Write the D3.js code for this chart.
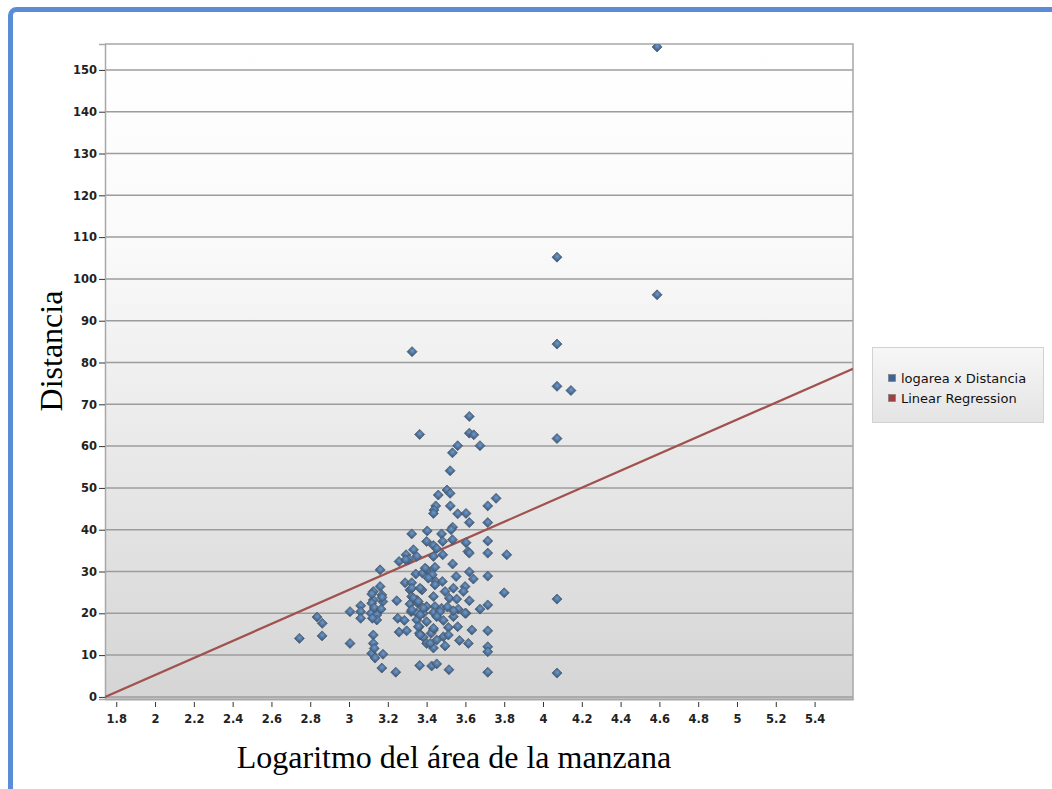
<!DOCTYPE html>
<html>
<head>
<meta charset="utf-8">
<script src="https://cdn.jsdelivr.net/npm/d3@7"></script>
<style>
  body { margin: 0; background: #fff; }
  svg { display: block; }
</style>
</head>
<body>
<script>
// logarea x Distancia
var logArea = [
  4.588, 4.072, 4.588, 4.072, 3.325, 4.072, 4.144, 4.072, 4.072, 4.072,
  3.620, 3.364, 3.620, 3.643, 3.560, 3.675, 3.533, 3.521, 3.505, 3.521,
  3.460, 3.758, 3.715, 3.522, 3.447, 3.438, 3.435, 3.560, 3.603, 3.620,
  3.715, 3.534, 3.403, 3.323, 3.477, 3.526, 3.400, 3.483, 3.533, 3.603,
  3.715, 3.435, 3.332, 3.452, 3.613, 3.620, 3.715, 3.813, 3.294, 3.349,
  3.435, 3.483, 3.258, 3.308, 3.534, 3.160, 3.443, 3.344, 3.379, 3.400,
  3.429, 3.620, 3.641, 3.552, 3.715, 3.447, 3.481, 3.289, 3.323, 3.598,
  3.538, 3.125, 3.169, 3.125, 3.160, 3.314, 3.376, 3.495, 3.589, 3.800,
  3.323, 3.349, 3.435, 3.517, 3.555, 3.620, 3.246, 3.117, 3.174, 3.314,
  3.354, 3.400, 3.443, 3.477, 3.507, 3.563, 3.675, 3.715, 3.005, 3.060,
  3.060, 3.113, 3.143, 3.320, 3.349, 3.383, 3.435, 3.469, 3.603, 3.538,
  3.060, 3.143, 3.251, 3.285, 3.349, 3.400, 3.486, 2.835, 2.862, 3.362,
  3.435, 3.512, 3.560, 3.633, 3.715, 3.258, 3.297, 3.362, 3.383, 3.423,
  3.486, 3.125, 2.744, 2.861, 3.005, 3.125, 3.400, 3.435, 3.495, 3.569,
  3.615, 3.715, 3.715, 3.117, 3.134, 3.175, 3.169, 3.241, 3.364, 3.426,
  3.452, 3.515, 3.715, 3.392, 3.409, 3.323, 3.366, 3.332, 3.357, 3.323,
  3.383, 3.366, 3.357, 3.435, 3.366, 3.418, 3.452, 3.512, 3.452, 3.538,
  3.598, 3.443, 3.117, 3.170, 3.130, 3.165, 3.120, 3.130, 3.292
];
var distancia = [
  155.5, 105.2, 96.2, 84.4, 82.6, 74.3, 73.3, 61.8, 23.4, 5.7,
  67.1, 62.8, 63.1, 62.7, 60.1, 60.1, 58.4, 54.1, 49.5, 48.7,
  48.3, 47.5, 45.7, 45.7, 45.7, 44.7, 43.9, 43.8, 43.9, 41.7,
  41.7, 40.6, 39.7, 39.0, 39.0, 40.0, 37.2, 37.2, 37.6, 36.9,
  37.3, 36.2, 35.2, 35.5, 34.8, 34.4, 34.4, 34.0, 34.0, 33.6,
  33.6, 34.0, 32.4, 32.9, 31.8, 30.4, 31.0, 29.4, 29.6, 30.5,
  29.2, 29.9, 28.2, 28.8, 28.9, 27.6, 27.6, 27.3, 27.3, 26.4,
  26.0, 25.2, 24.4, 23.2, 26.4, 25.6, 25.6, 25.2, 25.2, 24.9,
  24.0, 23.2, 24.0, 23.6, 23.4, 23.0, 23.0, 22.4, 22.8, 22.2,
  22.4, 21.6, 21.6, 21.2, 21.5, 21.0, 21.0, 22.0, 20.4, 21.8,
  20.4, 20.0, 19.6, 20.4, 20.0, 20.0, 20.2, 20.4, 20.0, 19.2,
  18.8, 18.4, 18.8, 18.3, 18.4, 18.0, 18.3, 19.1, 17.6, 16.8,
  16.0, 16.6, 16.8, 16.0, 15.8, 15.5, 15.8, 15.2, 14.3, 15.2,
  14.4, 14.8, 14.0, 14.6, 12.8, 12.8, 12.8, 11.7, 12.2, 13.5,
  12.8, 12.0, 10.8, 10.4, 9.3, 10.2, 6.9, 5.9, 7.5, 7.4,
  7.9, 6.5, 5.9, 30.8, 28.4, 26.0, 26.0, 23.6, 22.8, 20.8,
  21.2, 19.6, 16.8, 16.4, 14.8, 12.8, 13.6, 14.8, 19.2, 20.6,
  20.0, 26.8, 24.6, 23.8, 21.3, 21.0, 18.8, 11.6, 32.8
];

// Linear Regression (slope, intercept) as drawn
var regSlope = 20.36,
    regIntercept = -35.47;

var xTicks = [1.8, 2, 2.2, 2.4, 2.6, 2.8, 3, 3.2, 3.4, 3.6, 3.8, 4, 4.2, 4.4, 4.6, 4.8, 5, 5.2, 5.4];
var yTicks = [0, 10, 20, 30, 40, 50, 60, 70, 80, 90, 100, 110, 120, 130, 140, 150];
var legendLabels = ["logarea x Distancia", "Linear Regression"];

var width = 1052, height = 789;
var xMin = 1.742, xMax = 5.598, yMin = -0.5, yMax = 156.2;
var pLeft = 105, pRight = 853, pTop = 44, pBottom = 699;

var svg = d3.select("body").append("svg")
    .attr("width", width)
    .attr("height", height);

var defs = svg.append("defs");

var bg = defs.append("linearGradient")
    .attr("id", "plotbg").attr("x1", 0).attr("y1", 0).attr("x2", 0).attr("y2", 1);
bg.append("stop").attr("offset", "0%").attr("stop-color", "#ffffff");
bg.append("stop").attr("offset", "30%").attr("stop-color", "#fafafa");
bg.append("stop").attr("offset", "100%").attr("stop-color", "#d5d5d5");

var lg = defs.append("linearGradient")
    .attr("id", "legbg").attr("x1", 0).attr("y1", 0).attr("x2", 0).attr("y2", 1);
lg.append("stop").attr("offset", "0%").attr("stop-color", "#f7f7f7");
lg.append("stop").attr("offset", "100%").attr("stop-color", "#e4e4e4");

var mk = defs.append("radialGradient").attr("id", "marker").attr("cx", "45%").attr("cy", "40%").attr("r", "60%");
mk.append("stop").attr("offset", "0%").attr("stop-color", "#6f9aca");
mk.append("stop").attr("offset", "100%").attr("stop-color", "#3f6189");

defs.append("clipPath").attr("id", "plotclip")
  .append("rect")
    .attr("x", pLeft).attr("y", pTop)
    .attr("width", pRight - pLeft).attr("height", pBottom - pTop);

// outer blue frame
svg.append("rect")
    .attr("x", 10.5).attr("y", 9.5)
    .attr("width", 1200).attr("height", 1000)
    .attr("rx", 6)
    .attr("fill", "none")
    .attr("stroke", "#5b8dd6")
    .attr("stroke-width", 5);

var x = d3.scaleLinear().domain([xMin, xMax]).range([pLeft, pRight]);
var y = d3.scaleLinear().domain([yMin, yMax]).range([pBottom, pTop]);

// plot background
svg.append("rect")
    .attr("x", pLeft).attr("y", pTop)
    .attr("width", pRight - pLeft).attr("height", pBottom - pTop)
    .attr("fill", "url(#plotbg)");

// gridlines
svg.append("g").selectAll("line")
  .data(yTicks)
  .enter().append("line")
    .attr("x1", pLeft).attr("x2", pRight)
    .attr("y1", function(d) { return y(d); })
    .attr("y2", function(d) { return y(d); })
    .attr("stroke", "#9c9c9c")
    .attr("stroke-width", 1.5);

// y axis
var yAxis = svg.append("g")
    .attr("transform", "translate(" + pLeft + ",0)")
    .call(d3.axisLeft(y).tickValues(yTicks).tickSize(6).tickPadding(2));
yAxis.select(".domain").attr("stroke", "#a8a8a8").attr("stroke-width", 1.5);
yAxis.selectAll(".tick line").attr("stroke", "#333");
yAxis.selectAll("text")
    .attr("font-family", "DejaVu Sans, sans-serif")
    .attr("font-size", 11.5)
    .attr("font-weight", "bold")
    .attr("fill", "#222");

// x axis
var xAxis = svg.append("g")
    .attr("transform", "translate(0," + pBottom + ")")
    .call(d3.axisBottom(x).tickValues(xTicks).tickFormat(d3.format("")).tickSize(0).tickPadding(16));
xAxis.select(".domain").attr("stroke", "#a8a8a8").attr("stroke-width", 2);
xAxis.selectAll(".tick").append("line")
    .attr("y1", 3).attr("y2", 8)
    .attr("stroke", "#333");
xAxis.selectAll("text")
    .attr("font-family", "DejaVu Sans, sans-serif")
    .attr("font-size", 11.5)
    .attr("font-weight", "bold")
    .attr("fill", "#222");

// plot border (top and right)
svg.append("path")
    .attr("d", "M" + pLeft + "," + pTop + "H" + pRight + "V" + (pBottom + 1))
    .attr("fill", "none")
    .attr("stroke", "#a8a8a8")
    .attr("stroke-width", 1.5);

// regression line
var regLine = d3.line()
    .x(function(d) { return x(d); })
    .y(function(d) { return y(regSlope * d + regIntercept); });
svg.append("path")
    .datum([xMin, xMax])
    .attr("clip-path", "url(#plotclip)")
    .attr("d", regLine)
    .attr("fill", "none")
    .attr("stroke", "#a0524e")
    .attr("stroke-width", 2.2);

// points
var points = logArea.map(function(v, i) { return { x: v, y: distancia[i] }; });
var diamond = d3.symbol().type(d3.symbolSquare).size(50);
svg.append("g")
    .attr("clip-path", "url(#plotclip)")
  .selectAll("path")
  .data(points)
  .enter().append("path")
    .attr("d", diamond)
    .attr("transform", function(d) {
      return "translate(" + x(d.x) + "," + y(d.y) + ") rotate(45)";
    })
    .attr("fill", "url(#marker)")
    .attr("stroke", "#4d5966")
    .attr("stroke-width", 0.9)
    .attr("stroke-opacity", 0.8);

// axis titles
svg.append("text")
    .attr("x", 454)
    .attr("y", 768)
    .attr("text-anchor", "middle")
    .attr("font-family", "Liberation Serif, Times New Roman, serif")
    .attr("font-size", 32)
    .attr("fill", "#000")
    .text("Logaritmo del área de la manzana");

svg.append("text")
    .attr("transform", "translate(62,351) rotate(-90)")
    .attr("text-anchor", "middle")
    .attr("font-family", "Liberation Serif, Times New Roman, serif")
    .attr("font-size", 32)
    .attr("fill", "#000")
    .text("Distancia");

// legend
var legend = svg.append("g").attr("transform", "translate(872,347)");
legend.append("rect")
    .attr("x", 0.5).attr("y", 0.5)
    .attr("width", 171).attr("height", 75)
    .attr("fill", "url(#legbg)")
    .attr("stroke", "#d2d2d2");
var legColors = ["#3c6497", "#a0403f"];
var item = legend.selectAll(".item")
  .data(legendLabels)
  .enter().append("g")
    .attr("class", "item")
    .attr("transform", function(d, i) { return "translate(16," + (27 + i * 20) + ")"; });
item.append("rect")
    .attr("x", 0.5).attr("y", 0.5)
    .attr("width", 7).attr("height", 7)
    .attr("fill", function(d, i) { return legColors[i]; })
    .attr("stroke", "#777")
    .attr("stroke-width", 0.6);
item.append("text")
    .attr("x", 13).attr("y", 9)
    .attr("font-family", "DejaVu Sans, sans-serif")
    .attr("font-size", 13)
    .attr("fill", "#111")
    .text(function(d) { return d; });
</script>
</body>
</html>
